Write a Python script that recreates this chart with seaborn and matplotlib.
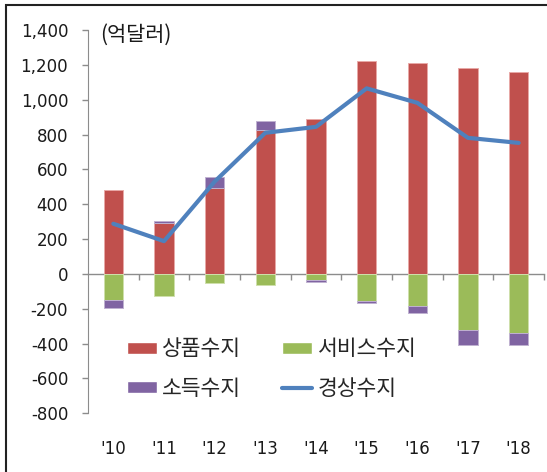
import numpy as np
import pandas as pd
import matplotlib
matplotlib.use('Agg')
import matplotlib.pyplot as plt
from matplotlib.patches import Patch, Rectangle
from matplotlib.lines import Line2D
import seaborn as sns

sns.set_style('white')
# 숫자는 DejaVu, 한글은 Noto CJK로
plt.rcParams['font.family'] = ['DejaVu Sans', 'Noto Sans CJK KR']

# 데이터 (억달러)
years = ["'10", "'11", "'12", "'13", "'14", "'15", "'16", "'17", "'18"]
goods = [480, 293, 496, 827, 890, 1220, 1208, 1180, 1158]       # 상품수지
services = [-147, -124, -52, -66, -37, -153, -182, -323, -338]  # 서비스수지
income = [-48, 13, 63, 50, -9, -13, -42, -87, -72]              # 소득수지
current = [288, 188, 530, 810, 844, 1065, 982, 781, 752]        # 경상수지

c_goods = '#C0504D'
c_serv = '#9BBB59'
c_inc = '#8064A2'
c_line = '#4F81BD'

df = pd.DataFrame({'year': years, 'goods': goods, 'services': services,
                   'income': income, 'current': current})
# 소득수지는 양수면 상품 위, 음수면 서비스 아래에 쌓는다
df['inc_bottom'] = np.where(df['income'] >= 0, df['goods'], df['services'])

fig = plt.figure(figsize=(5.47, 4.72), dpi=100)
ax = fig.add_axes([88 / 547, 1 - 413.3 / 472, 456 / 547, 383.3 / 472])

bw = 0.38
sns.barplot(data=df, x='year', y='goods', color=c_goods, saturation=1,
            width=bw, edgecolor='#E8A9A7', linewidth=0.7, ax=ax)
sns.barplot(data=df, x='year', y='services', color=c_serv, saturation=1,
            width=bw, edgecolor='#CFE0AC', linewidth=0.7, ax=ax)
sns.barplot(data=df, x='year', y='income', color=c_inc, saturation=1,
            width=bw, edgecolor='#BFB1D0', linewidth=0.7,
            bottom=df['inc_bottom'].values, ax=ax)
sns.lineplot(x=np.arange(len(years)), y=df['current'], color=c_line,
             linewidth=3, ax=ax, zorder=5)

ax.set_xlim(-0.5, len(years) - 0.5)
ax.set_ylim(-800, 1400)
ax.set_yticks(range(-800, 1401, 200))
ax.set_yticklabels(['{:,}'.format(v) for v in range(-800, 1401, 200)])
ax.set_xlabel('')
ax.set_ylabel('')

for s in ['top', 'right', 'bottom']:
    ax.spines[s].set_visible(False)
ax.spines['left'].set_color('#8C8C8C')
ax.tick_params(axis='y', left=True, direction='out', length=4.3, width=1,
               color='#8C8C8C', pad=10, labelsize=12, labelcolor='#1A1A1A')
ax.tick_params(axis='x', length=0, pad=19, labelsize=12, labelcolor='#1A1A1A')

# 0 기준선 + 구간 눈금
zax = ax.secondary_xaxis(0, transform=ax.transData)
zax.set_xticks(np.arange(len(years)) + 0.5)
zax.set_xticklabels([])
zax.tick_params(bottom=True, direction='out', length=4.3, width=1,
                color='#8C8C8C')
zax.spines['bottom'].set_color('#8C8C8C')
zax.spines['bottom'].set_linewidth(1)

ax.text(0.026, 0.987, '(억달러)', transform=ax.transAxes, fontsize=15,
        va='center', ha='left', color='#1A1A1A',
        family=['Noto Sans CJK KR', 'DejaVu Sans'])

handles = [Patch(facecolor=c_goods), Patch(facecolor=c_inc),
           Patch(facecolor=c_serv), Line2D([], [], color=c_line, lw=3)]
labels = ['상품수지', '소득수지', '서비스수지', '경상수지']
ax.legend(handles, labels, ncol=2, frameon=False, loc='upper left',
          bbox_to_anchor=(0.042, 0.246),
          handlelength=1.4, handleheight=0.47, handletextpad=0.25,
          columnspacing=1.9, labelspacing=0.8,
          prop={'family': ['Noto Sans CJK KR', 'DejaVu Sans'], 'size': 15.5})

fig.add_artist(Rectangle((6 / 547, -0.1), 1.2, 1.1 - 4.7 / 472,
                         transform=fig.transFigure, fill=False,
                         edgecolor='#222222', linewidth=1.5))

plt.savefig('out.png', dpi=100)
plt.close()
